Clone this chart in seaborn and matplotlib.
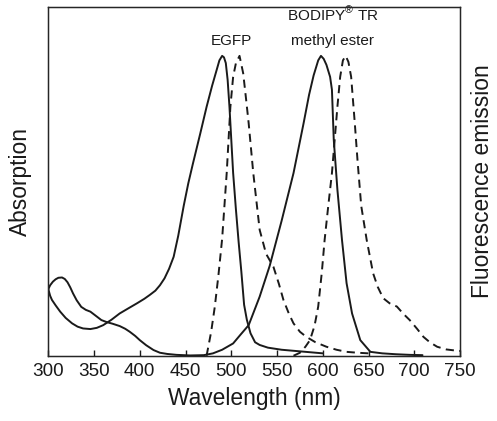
import numpy as np
import pandas as pd
import matplotlib
matplotlib.use("Agg")
import matplotlib.pyplot as plt
import seaborn as sns

# absorption / emission spectra (normalised to peak = 1)
egfp_abs_wl = [300, 302, 304, 308, 313, 319, 326, 332, 338, 346, 353, 360, 369, 378, 388, 397,
               405, 411, 417, 422, 427, 432, 437, 442, 448, 453, 458, 466, 473, 479, 484, 487,
               490, 492, 494, 496, 498, 500, 502, 505, 508, 511, 514, 517, 521, 526, 531, 540,
               555, 570, 585, 600]
egfp_abs = [0.222, 0.2, 0.186, 0.168, 0.147, 0.126, 0.108, 0.097, 0.091, 0.089, 0.093, 0.102,
            0.12, 0.141, 0.159, 0.175, 0.19, 0.203, 0.217, 0.235, 0.258, 0.29, 0.33, 0.40, 0.50,
            0.575, 0.64, 0.74, 0.83, 0.90, 0.953, 0.985, 1.0, 0.995, 0.976, 0.92, 0.83, 0.72,
            0.61, 0.49, 0.38, 0.28, 0.17, 0.12, 0.075, 0.045, 0.036, 0.027, 0.02, 0.016, 0.012,
            0.008]

egfp_em_wl = [473, 478, 482, 486, 490, 495, 499, 502, 505, 509, 513, 516, 519, 524, 531, 538,
              546, 552, 557, 563, 568, 575, 582, 592, 604, 615, 626, 638, 650]
egfp_em = [0.0, 0.08, 0.164, 0.27, 0.39, 0.61, 0.83, 0.93, 0.975, 1.0, 0.942, 0.86, 0.775, 0.61,
           0.42, 0.34, 0.297, 0.24, 0.186, 0.14, 0.108, 0.08, 0.063, 0.045, 0.030, 0.02, 0.013,
           0.01, 0.008]

bodipy_abs_wl = [300, 302, 305, 308, 311, 315, 318, 321, 324, 327, 331, 336, 341, 346, 352, 358,
                 364, 370, 378, 384, 389, 395, 400, 407, 415, 422, 430, 440, 455, 470, 480, 490,
                 502, 510, 519, 531, 542, 555, 568, 579, 585, 590, 595, 598, 601, 604, 608, 610,
                 612, 616, 621, 626, 632, 641, 652, 665, 680, 695, 709]
bodipy_abs = [0.222, 0.235, 0.247, 0.255, 0.26, 0.261, 0.256, 0.245, 0.228, 0.208, 0.185, 0.163,
              0.153, 0.147, 0.133, 0.119, 0.112, 0.107, 0.099, 0.09, 0.080, 0.066, 0.052, 0.035,
              0.019, 0.01, 0.006, 0.003, 0.001, 0.002, 0.008, 0.02, 0.041, 0.07, 0.102, 0.197,
              0.30, 0.45, 0.609, 0.775, 0.87, 0.935, 0.985, 1.0, 0.99, 0.97, 0.93, 0.887, 0.72,
              0.553, 0.386, 0.242, 0.141, 0.052, 0.013, 0.008, 0.005, 0.003, 0.002]

bodipy_em_wl = [568, 575, 581, 586, 591, 595, 599, 602, 606, 610, 613, 616, 619, 622, 625, 628,
                631, 635, 638, 642, 648, 655, 660, 666, 673, 681, 688, 695, 703, 710, 717, 725,
                735, 746, 750]
bodipy_em = [0.0, 0.01, 0.03, 0.052, 0.10, 0.164, 0.28, 0.386, 0.5, 0.609, 0.72, 0.831, 0.93,
             0.985, 1.0, 0.98, 0.93, 0.775, 0.65, 0.50, 0.386, 0.275, 0.23, 0.192, 0.175, 0.164,
             0.14, 0.119, 0.09, 0.063, 0.045, 0.030, 0.021, 0.017, 0.016]

x_ticks = [300, 350, 400, 450, 500, 550, 600, 650, 700, 750]

sns.set_style("ticks")
plt.rcParams['font.family'] = ['Liberation Sans', 'DejaVu Sans']
plt.rcParams['mathtext.fontset'] = 'custom'
plt.rcParams['mathtext.rm'] = 'Liberation Sans'

fig = plt.figure(figsize=(4.97, 4.21), dpi=100)
ax = fig.add_axes([0.0972, 0.155, 0.8284, 0.8284])

ink = "#1a1a1a"
solid = dict(color=ink, linewidth=1.4, linestyle="-")
dashed = dict(color=ink, linewidth=1.4, linestyle=(0, (4.2, 2.8)))

sns.lineplot(x=egfp_abs_wl, y=egfp_abs, ax=ax, sort=False, **solid)
sns.lineplot(x=bodipy_abs_wl, y=bodipy_abs, ax=ax, sort=False, **solid)
sns.lineplot(x=egfp_em_wl, y=egfp_em, ax=ax, sort=False, **dashed)
sns.lineplot(x=bodipy_em_wl, y=bodipy_em, ax=ax, sort=False, **dashed)

ax.set_xlim(300, 750)
ax.set_ylim(0, 1.163)
ax.set_xticks(x_ticks)
ax.set_yticks([])
ax.tick_params(axis='x', direction='in', length=4, width=1, colors=ink, labelsize=13.6, pad=5)
for s in ax.spines.values():
    s.set_visible(True)
    s.set_color(ink)
    s.set_linewidth(1)

ax.set_xlabel("Wavelength (nm)", fontsize=16.4, color=ink, labelpad=5)
ax.set_ylabel("Absorption", fontsize=16.4, color=ink, labelpad=12)

ax2 = ax.twinx()
ax2.set_yticks([])
ax2.set_ylabel("Fluorescence emission", fontsize=16.4, color=ink, labelpad=8)

ax.text(500, 1.037, "EGFP", ha='center', va='baseline', fontsize=11, color=ink)
ax.text(611, 1.117, r"BODIPY$^{\circledR}$ TR", ha='center', va='baseline', fontsize=11, color=ink)
ax.text(611, 1.037, "methyl ester", ha='center', va='baseline', fontsize=11, color=ink)

fig.savefig("out.png", dpi=100)
